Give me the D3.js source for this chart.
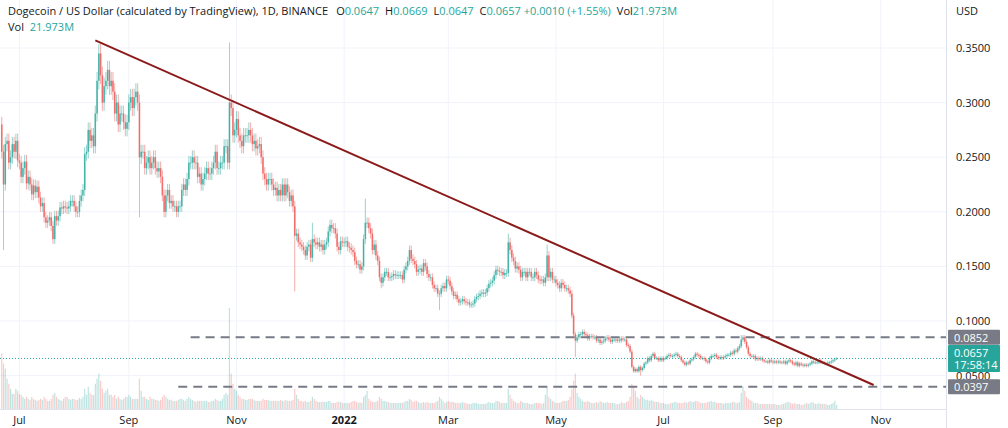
<!DOCTYPE html>
<html><head><meta charset="utf-8">
<script src="https://cdn.jsdelivr.net/npm/d3@7"></script>
<style>body{margin:0;background:#fff;font-family:"Open Sans",Roboto,sans-serif}</style>
</head><body><svg id="c" width="1008" height="428"></svg>
<script>
// Daily closes per month (starting 2021-06-21)
const c2106=[0.255,0.225,0.262,0.265,0.245,0.25,0.262,0.255,0.265,0.247];
const c2107=[0.245,0.232,0.240,0.246,0.226,0.232,0.225,0.216,0.224,0.218,0.223,0.213,0.205,0.208,0.195,0.190,0.192,0.195,0.187,0.175,0.196,0.192,0.196,0.204,0.203,0.205,0.204,0.203,0.205,0.210,0.210];
const c2108=[0.205,0.200,0.200,0.210,0.215,0.220,0.253,0.255,0.275,0.265,0.270,0.260,0.290,0.320,0.345,0.325,0.300,0.315,0.320,0.330,0.315,0.320,0.310,0.290,0.300,0.280,0.290,0.290,0.282,0.276,0.282];
const c2109=[0.300,0.305,0.295,0.305,0.310,0.300,0.250,0.255,0.255,0.240,0.245,0.250,0.240,0.245,0.250,0.240,0.237,0.240,0.232,0.215,0.200,0.215,0.220,0.208,0.210,0.205,0.205,0.200,0.205,0.205];
const c2110=[0.220,0.225,0.220,0.230,0.245,0.245,0.250,0.245,0.245,0.232,0.235,0.225,0.230,0.235,0.240,0.235,0.235,0.240,0.245,0.255,0.240,0.240,0.245,0.245,0.260,0.260,0.245,0.300,0.295,0.270,0.275];
const c2111=[0.285,0.270,0.265,0.260,0.270,0.270,0.270,0.275,0.270,0.262,0.265,0.258,0.260,0.262,0.250,0.235,0.230,0.225,0.230,0.230,0.225,0.220,0.222,0.215,0.220,0.215,0.225,0.215,0.225,0.218];
const c2112=[0.210,0.215,0.205,0.178,0.180,0.172,0.170,0.168,0.165,0.160,0.168,0.170,0.158,0.175,0.172,0.170,0.172,0.168,0.170,0.165,0.170,0.172,0.182,0.188,0.185,0.185,0.180,0.168,0.165,0.173,0.172];
const c2201=[0.172,0.173,0.168,0.167,0.165,0.163,0.155,0.152,0.152,0.147,0.150,0.175,0.190,0.190,0.185,0.180,0.165,0.170,0.160,0.155,0.140,0.135,0.140,0.145,0.145,0.140,0.140,0.141,0.143,0.142,0.142];
const c2202=[0.142,0.142,0.138,0.147,0.150,0.155,0.165,0.157,0.155,0.152,0.145,0.147,0.148,0.145,0.153,0.150,0.143,0.140,0.140,0.133,0.130,0.130,0.125,0.125,0.130,0.132,0.130,0.138];
const c2203=[0.137,0.132,0.127,0.123,0.124,0.120,0.117,0.118,0.120,0.118,0.117,0.117,0.115,0.115,0.116,0.120,0.122,0.123,0.125,0.126,0.125,0.126,0.130,0.134,0.135,0.137,0.142,0.147,0.146,0.145,0.145];
const c2204=[0.142,0.144,0.144,0.172,0.165,0.158,0.155,0.148,0.150,0.147,0.140,0.145,0.145,0.140,0.145,0.145,0.140,0.140,0.145,0.142,0.138,0.137,0.138,0.135,0.140,0.160,0.140,0.145,0.138,0.138];
const c2205=[0.135,0.133,0.130,0.135,0.133,0.130,0.130,0.128,0.125,0.105,0.088,0.082,0.085,0.088,0.088,0.090,0.088,0.087,0.084,0.086,0.086,0.085,0.085,0.082,0.083,0.080,0.081,0.082,0.084,0.085,0.083];
const c2206=[0.081,0.083,0.083,0.082,0.083,0.082,0.084,0.083,0.083,0.078,0.077,0.072,0.058,0.054,0.056,0.054,0.058,0.055,0.057,0.061,0.062,0.066,0.064,0.068,0.070,0.066,0.066,0.064,0.066,0.064];
const c2207=[0.066,0.066,0.068,0.069,0.068,0.068,0.069,0.070,0.068,0.067,0.064,0.062,0.060,0.062,0.061,0.064,0.065,0.067,0.070,0.069,0.068,0.066,0.066,0.065,0.063,0.062,0.066,0.068,0.068,0.069,0.067];
const c2208=[0.066,0.067,0.066,0.067,0.068,0.069,0.069,0.071,0.070,0.073,0.072,0.075,0.077,0.083,0.085,0.081,0.076,0.070,0.068,0.068,0.068,0.065,0.066,0.065,0.066,0.064,0.063,0.063,0.062,0.064,0.063];
const c2209=[0.062,0.063,0.062,0.063,0.062,0.062,0.063,0.061,0.063,0.064,0.063,0.061,0.060,0.062,0.059,0.061,0.060,0.059,0.060,0.059,0.060,0.061,0.063,0.062,0.062,0.062,0.064,0.062,0.062,0.061];
const c2210=[0.061,0.062,0.062,0.063,0.064,0.0647,0.0657];
// Relative daily volume per month
const v2106=[55,45,40,30,25,20,15,15,20,18];
const v2107=[15,14,12,10,12,10,9,12,10,9,8,9,10,9,12,10,8,8,10,14,16,12,10,9,8,10,12,12,10,9,10];
const v2108=[10,9,9,11,10,12,20,14,22,16,14,14,25,30,35,28,20,16,18,20,14,14,12,14,10,12,10,9,10,12,12];
const v2109=[14,12,10,10,10,10,30,18,12,12,10,9,12,10,10,9,9,8,9,12,14,12,10,9,9,8,8,8,9,10];
const v2110=[10,9,8,10,12,10,9,8,7,8,8,8,8,8,8,7,7,8,8,10,9,8,8,10,14,16,14,100,35,25,20];
const v2111=[18,14,12,10,10,9,9,10,10,10,9,8,8,8,8,10,9,9,9,8,8,8,8,8,8,9,8,8,9,8];
const v2112=[8,8,9,20,14,10,8,8,7,8,7,7,8,12,10,8,7,7,7,7,7,7,8,8,6,6,6,7,7,7,6];
const v2201=[6,6,6,6,7,8,8,7,6,7,6,12,14,18,10,8,7,7,7,8,12,10,8,8,7,7,6,6,6,6,6];
const v2202=[6,6,6,7,8,8,10,9,7,8,8,7,6,6,7,6,7,6,6,6,6,7,8,12,10,8,6,7];
const v2203=[8,7,7,7,6,6,6,6,7,6,6,5,5,5,6,6,6,5,5,5,5,5,6,7,6,6,6,8,8,7,6];
const v2204=[6,6,6,20,14,10,8,7,6,6,8,7,6,6,6,5,5,5,6,6,6,6,5,6,14,22,12,10,8,7];
const v2205=[6,6,6,7,8,8,8,9,12,20,28,35,16,12,10,8,7,7,8,7,6,6,6,7,6,8,7,6,6,7,6];
const v2206=[6,6,6,5,5,5,7,6,6,7,8,12,25,22,18,12,10,14,12,10,9,9,8,9,8,7,7,7,6,6];
const v2207=[6,5,5,5,6,6,7,7,6,6,6,6,7,6,7,8,7,7,8,8,7,6,6,6,6,7,7,8,7,7,6];
const v2208=[6,6,6,5,6,6,6,6,7,7,6,6,7,16,22,18,12,10,9,8,6,6,6,5,5,5,5,5,5,5,5];
const v2209=[5,5,4,4,4,5,5,6,7,7,6,5,6,5,5,5,4,4,5,6,5,6,7,6,5,5,6,5,5,5];
const v2210=[5,4,4,5,6,8,4];
// Notable wicks
const wicks=[["2021-06-22",null,0.165],["2021-08-16",0.355,null],["2021-09-07",null,0.195],["2021-10-28",0.355,null],["2021-12-04",null,0.127],["2021-12-14",0.19,null],["2022-01-13",0.212,null],["2022-01-22",null,0.13],["2022-02-24",null,0.11],["2022-04-04",0.18,null],["2022-04-26",0.17,null],["2022-05-12",null,0.067],["2022-06-18",null,0.05],["2022-08-14",0.087,null],["2022-10-07",0.0669,0.0647]];
const priceTicks=[0.05,0.10,0.15,0.20,0.25,0.30,0.35];
const monthTicks=[["2021-07-01","Jul"],["2021-09-01","Sep"],["2021-11-01","Nov"],["2022-01-01","2022"],["2022-03-01","Mar"],["2022-05-01","May"],["2022-07-01","Jul"],["2022-09-01","Sep"],["2022-11-01","Nov"]];
const levels=[[0.0852,"2021-10-06"],[0.0397,"2021-09-29"]];
const trend=[["2021-08-13",0.357],["2022-10-28",0.0414]];

const months=[[c2106,v2106,2021,5,21],[c2107,v2107,2021,6,1],[c2108,v2108,2021,7,1],[c2109,v2109,2021,8,1],[c2110,v2110,2021,9,1],[c2111,v2111,2021,10,1],[c2112,v2112,2021,11,1],[c2201,v2201,2022,0,1],[c2202,v2202,2022,1,1],[c2203,v2203,2022,2,1],[c2204,v2204,2022,3,1],[c2205,v2205,2022,4,1],[c2206,v2206,2022,5,1],[c2207,v2207,2022,6,1],[c2208,v2208,2022,7,1],[c2209,v2209,2022,8,1],[c2210,v2210,2022,9,1]];
const P=d3.timeParse("%Y-%m-%d"), F=d3.timeFormat("%Y-%m-%d");
const data=[];
let prev=0.27;
months.forEach(([cs,vs,y,m,d0])=>cs.forEach((c,i)=>{
  const dt=new Date(y,m,d0+i);
  const o=data.length? prev : 0.28;
  data.push({date:dt,o:o,c:c,h:Math.max(o,c)*1.025,l:Math.min(o,c)*0.975,v:vs[i]||5});
  prev=c;
}));
data[data.length-1].o=0.0647;
const wm=new Map(wicks.map(w=>[w[0],w]));
data.forEach(d=>{const w=wm.get(F(d.date)); if(w){ if(w[1]!=null)d.h=w[1]; if(w[2]!=null)d.l=w[2]; }});

const svg=d3.select("#c");
const W=946, bottom=409;
const x=d3.scaleTime().domain([P("2021-06-20"),P("2022-12-08")]).range([0,W]);
const y=d3.scaleLinear().domain([0.1,0.35]).range([321,48]);
const yv=d3.scaleLinear().domain([0,100]).range([bottom,308]);
const up="#26a69a", dn="#ef5350";

svg.append("g").selectAll("line").data(priceTicks).join("line")
 .attr("x1",0).attr("x2",W).attr("y1",d=>y(d)).attr("y2",d=>y(d)).attr("stroke","#f0f3fa");
svg.append("g").selectAll("line").data(monthTicks).join("line")
 .attr("x1",d=>x(P(d[0]))).attr("x2",d=>x(P(d[0]))).attr("y1",0).attr("y2",bottom).attr("stroke","#f0f3fa");

svg.append("g").selectAll("rect").data(data).join("rect")
 .attr("x",d=>x(d.date)-0.6).attr("width",1.2).attr("y",d=>yv(d.v)).attr("height",d=>bottom-yv(d.v))
 .attr("fill",d=>d.c>=d.o?up:dn).attr("opacity",0.3);

const g=svg.append("g");
g.selectAll("line").data(data).join("line")
 .attr("x1",d=>x(d.date)).attr("x2",d=>x(d.date)).attr("y1",d=>y(d.h)).attr("y2",d=>y(d.l))
 .attr("stroke",d=>d.c>=d.o?up:dn).attr("stroke-width",0.8).attr("opacity",0.6);
g.selectAll("rect").data(data).join("rect")
 .attr("x",d=>x(d.date)-0.8).attr("width",1.6)
 .attr("y",d=>y(Math.max(d.o,d.c))).attr("height",d=>Math.max(0.8,Math.abs(y(d.o)-y(d.c))))
 .attr("fill",d=>d.c>=d.o?up:dn).attr("opacity",0.75);

const last=data[data.length-1];
svg.append("line").attr("x1",0).attr("x2",W).attr("y1",y(last.c)).attr("y2",y(last.c))
 .attr("stroke",up).attr("stroke-dasharray","1,2");

levels.forEach(([p,d])=>svg.append("line").attr("x1",x(P(d))).attr("x2",W).attr("y1",y(p)).attr("y2",y(p))
 .attr("stroke","#787b86").attr("stroke-width",2).attr("stroke-dasharray","9,6"));
svg.append("line").attr("x1",x(P(trend[0][0]))).attr("y1",y(trend[0][1])).attr("x2",x(P(trend[1][0]))).attr("y2",y(trend[1][1]))
 .attr("stroke","#8b1a1a").attr("stroke-width",2);

svg.append("rect").attr("x",W).attr("y",0).attr("width",62).attr("height",428).attr("fill","#fff");
svg.append("rect").attr("x",0).attr("y",bottom).attr("width",1008).attr("height",19).attr("fill","#fff");
svg.append("line").attr("x1",W+0.5).attr("x2",W+0.5).attr("y1",0).attr("y2",428).attr("stroke","#e0e3eb");
svg.append("line").attr("x1",0).attr("x2",W).attr("y1",bottom+0.5).attr("y2",bottom+0.5).attr("stroke","#e0e3eb");

const tx=(s,a)=>{const t=svg.append("text").text(s).attr("font-size",11).attr("fill","#131722");for(const k in a)t.attr(k,a[k]);return t;};
priceTicks.forEach(p=>tx(d3.format(".4f")(p),{x:956,y:y(p)+4}));
tx("USD",{x:956,y:15});
monthTicks.forEach(([d,l])=>tx(l,{x:x(P(d)),y:424,"text-anchor":"middle","font-weight":l==="2022"?"bold":null}));

const box=(p,fill,lines,h)=>{svg.append("rect").attr("x",948).attr("y",y(p)-(h/2)).attr("width",52).attr("height",h).attr("fill",fill).attr("rx",1);
 lines.forEach((s,i)=>tx(s,{x:954,y:y(p)-h/2+12+i*12,fill:"#fff"}));};
box(0.0852,"#787b86",["0.0852"],15);
box(0.0397,"#787b86",["0.0397"],15);
box(last.c,up,["0.0657","17:58:14"],27);

const hd=svg.append("text").attr("x",8).attr("y",15).attr("font-size",11).attr("fill","#131722");
hd.append("tspan").text("Dogecoin / US Dollar (calculated by TradingView), 1D, BINANCE");
[["O","0.0647"],["H","0.0669"],["L","0.0647"],["C","0.0657 +0.0010 (+1.55%)"],["Vol","21.973M"]].forEach(([k,v],i)=>{
 hd.append("tspan").attr("dx",i===0?8:6).text(k);
 hd.append("tspan").attr("fill",up).text(v);
});
const v2=svg.append("text").attr("x",8).attr("y",31).attr("font-size",11).attr("fill","#131722");
v2.append("tspan").text("Vol ");v2.append("tspan").attr("fill",up).attr("dx",3).text("21.973M");
</script></body></html>
